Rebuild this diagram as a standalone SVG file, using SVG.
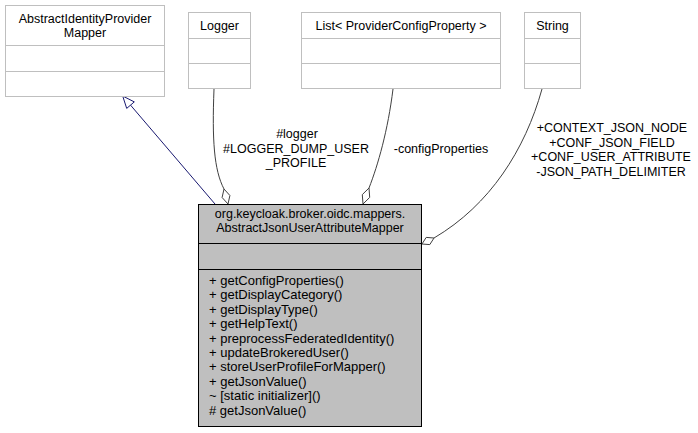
<svg xmlns="http://www.w3.org/2000/svg" width="698" height="433" viewBox="0 0 698 433">
<style>
text{font-family:"Liberation Sans",Arial,sans-serif;font-size:12.5px;fill:#000}
.c{text-anchor:middle}
.m{font-size:13px}
.box{fill:#fff;stroke:#bfbfbf;stroke-width:1}
.main{fill:#bfbfbf;stroke:#000;stroke-width:1}
.assoc{fill:none;stroke:#404040;stroke-width:1}
.dia{fill:#fff;stroke:#404040;stroke-width:1}
.gen{fill:none;stroke:#191970;stroke-width:1}
.genh{fill:#fff;stroke:#191970;stroke-width:1}
</style>
<rect width="698" height="433" fill="#fff"/>
<g id="connectors">
<path class="gen" d="M215,204 L130.5,105.1"/>
<polygon class="genh" points="122.7,96 126.7,108.4 134.3,101.9"/>
<path class="assoc" d="M214,89 C212,140 214,170 224,189"/>
<polygon class="dia" points="228,204 229.9,195.5 224,189 222.1,197.5"/>
<path class="assoc" d="M393,89 C388,130 378,165 369,188"/>
<polygon class="dia" points="363,204 369.7,197.4 369,188 362.3,194.6"/>
<path class="assoc" d="M542,89 C525,150 490,205 434,238"/>
<polygon class="dia" points="422,244 429.8,244.6 434,238 426.2,237.4"/>
<text class="c" x="297" y="138">#logger</text>
<text class="c" x="296" y="153">#LOGGER_DUMP_USER</text>
<text class="c" x="296" y="167">_PROFILE</text>
<text class="c" x="441" y="153">-configProperties</text>
<text class="c" x="612" y="132">+CONTEXT_JSON_NODE</text>
<text class="c" x="612" y="146.5">+CONF_JSON_FIELD</text>
<text class="c" x="611" y="161">+CONF_USER_ATTRIBUTE</text>
<text class="c" x="611" y="175.5">-JSON_PATH_DELIMITER</text>
</g>
<g id="AbstractIdentityProviderMapper">
<rect class="box" x="5.5" y="5.5" width="159" height="91"/>
<line class="box" x1="5.5" y1="45.5" x2="164.5" y2="45.5"/>
<line class="box" x1="5.5" y1="71.5" x2="164.5" y2="71.5"/>
<text class="c" x="85" y="23">AbstractIdentityProvider</text>
<text class="c" x="85" y="37">Mapper</text>
</g>
<g id="Logger">
<rect class="box" x="188.5" y="12.5" width="62" height="76"/>
<line class="box" x1="188.5" y1="38.5" x2="250.5" y2="38.5"/>
<line class="box" x1="188.5" y1="63.5" x2="250.5" y2="63.5"/>
<text class="c" x="219.5" y="29.5">Logger</text>
</g>
<g id="ListProviderConfigProperty">
<rect class="box" x="301.5" y="12.5" width="199" height="76"/>
<line class="box" x1="301.5" y1="38.5" x2="500.5" y2="38.5"/>
<line class="box" x1="301.5" y1="63.5" x2="500.5" y2="63.5"/>
<text class="c" x="401" y="29.5">List&lt; ProviderConfigProperty &gt;</text>
</g>
<g id="String">
<rect class="box" x="524.5" y="12.5" width="56" height="76"/>
<line class="box" x1="524.5" y1="38.5" x2="580.5" y2="38.5"/>
<line class="box" x1="524.5" y1="63.5" x2="580.5" y2="63.5"/>
<text class="c" x="552.5" y="29.5">String</text>
</g>
<g id="AbstractJsonUserAttributeMapper">
<rect class="main" x="198.5" y="204.5" width="223" height="222"/>
<line class="main" x1="198.5" y1="243.5" x2="421.5" y2="243.5"/>
<line class="main" x1="198.5" y1="269.5" x2="421.5" y2="269.5"/>
<text class="c" x="310" y="218">org.keycloak.broker.oidc.mappers.</text>
<text class="c" x="310" y="232">AbstractJsonUserAttributeMapper</text>
<text class="m" x="209" y="285">+ getConfigProperties()</text>
<text class="m" x="209" y="299.4">+ getDisplayCategory()</text>
<text class="m" x="209" y="313.8">+ getDisplayType()</text>
<text class="m" x="209" y="328.2">+ getHelpText()</text>
<text class="m" x="209" y="342.6">+ preprocessFederatedIdentity()</text>
<text class="m" x="209" y="357">+ updateBrokeredUser()</text>
<text class="m" x="209" y="371.4">+ storeUserProfileForMapper()</text>
<text class="m" x="209" y="385.8">+ getJsonValue()</text>
<text class="m" x="209" y="400.2">~ [static initializer]()</text>
<text class="m" x="209" y="414.6"># getJsonValue()</text>
</g>
</svg>
